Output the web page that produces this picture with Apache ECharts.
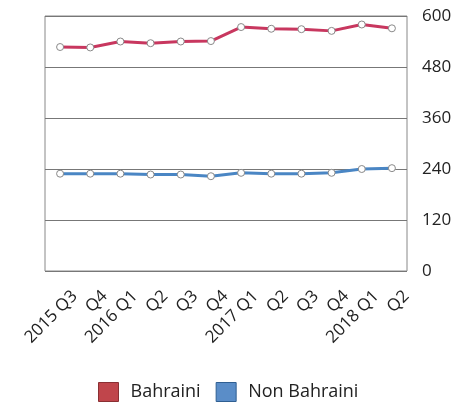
<!DOCTYPE html>
<html><head><meta charset="utf-8">
<script src="https://cdn.jsdelivr.net/npm/echarts@6/dist/echarts.min.js"></script>
<style>html,body{margin:0;padding:0;background:#fff}#c{width:470px;height:411px}</style>
</head><body><div id="c"></div>
<script>
const categories = ["2015 Q3","Q4","2016 Q1","Q2","Q3","Q4","2017 Q1","Q2","Q3","Q4","2018 Q1","Q2"];
const bahraini = [527, 526, 540, 536, 540, 541, 574, 570, 569, 565, 580, 571];
const nonBahraini = [229, 229, 229, 227, 227, 223, 231, 229, 229, 231, 240, 242];
const yTicks = [0, 120, 240, 360, 480, 600];

const font = "'Open Sans', 'Noto Sans', sans-serif";
const chart = echarts.init(document.getElementById('c'), null, {renderer:'canvas'});
chart.setOption({
  animation: false,
  textStyle: {fontFamily: font},
  grid: {left: 45, right: 63, top: 16, bottom: 140, show: true, borderColor: '#888', borderWidth: 1},
  legend: {
    bottom: 4, left: 93,
    itemWidth: 20, itemHeight: 19, itemGap: 15,
    textStyle: {fontSize: 18, color: '#222', fontFamily: font, padding: [0, 0, 0, 7]},
    data: [
      {name: 'Bahraini', icon: 'rect', itemStyle: {color: '#c0454b', borderColor: '#8a2f33', borderWidth: 1}},
      {name: 'Non Bahraini', icon: 'rect', itemStyle: {color: '#5a8dc8', borderColor: '#2f5f92', borderWidth: 1}}
    ]
  },
  xAxis: {
    type: 'category', data: categories, boundaryGap: true,
    axisLine: {show: false}, axisTick: {show: false},
    axisLabel: {rotate: 45, fontSize: 17, color: '#222', margin: 8, interval: 0,
                verticalAlign: 'top', padding: [12, 0, 0, 0]}
  },
  yAxis: {
    type: 'value', position: 'right', min: yTicks[0], max: yTicks[yTicks.length-1], interval: 120,
    axisLine: {show: false}, axisTick: {show: false},
    splitLine: {lineStyle: {color: '#777', width: 1}},
    axisLabel: {fontSize: 17, color: '#222', margin: 15, padding: [6, 0, 0, 0]}
  },
  series: [
    {name: 'Bahraini', type: 'line', data: bahraini, symbol: 'circle', symbolSize: 7,
     lineStyle: {color: '#c8375f', width: 3}, itemStyle: {color: '#fff', borderColor: '#888', borderWidth: 1}},
    {name: 'Non Bahraini', type: 'line', data: nonBahraini, symbol: 'circle', symbolSize: 7,
     lineStyle: {color: '#4a86c4', width: 3}, itemStyle: {color: '#fff', borderColor: '#888', borderWidth: 1}}
  ]
});
</script></body></html>
